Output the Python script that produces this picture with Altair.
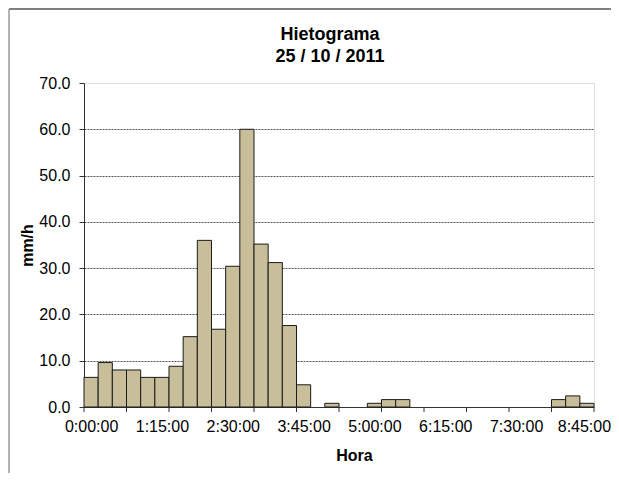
import altair as alt
import pandas as pd

# 15-minute intervals, intensity in mm/h
hora = [f"{(i*15)//60}:{(i*15)%60:02d}:00" for i in range(36)]
intensidad = [6.4, 9.6, 8.0, 8.0, 6.4, 6.4, 8.8, 15.2, 36.0, 16.8, 30.4, 60.0,
              35.2, 31.2, 17.6, 4.8, 0.0, 0.8, 0.0, 0.0, 0.8, 1.6, 1.6, 0.0,
              0.0, 0.0, 0.0, 0.0, 0.0, 0.0, 0.0, 0.0, 0.0, 1.6, 2.4, 0.8]
step_min = 15
label_every = 5
tick_every = 3

df = pd.DataFrame({
    "hora": hora,
    "v": intensidad,
    "start": [i * step_min for i in range(len(hora))],
})
df["end"] = df["start"] + step_min

label_vals = [i * step_min + step_min / 2 for i in range(0, len(hora), label_every)]
tick_df = pd.DataFrame({"m": [i * step_min for i in range(0, len(hora) + 1, tick_every)]})

W, H = 510, 324
FONT = "Liberation Sans"

xscale = alt.Scale(domain=[0, len(hora) * step_min], nice=False, zero=False)
yscale = alt.Scale(domain=[0, 70], nice=False)

label_expr = ("floor((datum.value-7.5)/60) + ':' + "
              "(((datum.value-7.5)%60) < 10 ? '0' : '') + ((datum.value-7.5)%60) + ':00'")

bars = alt.Chart(df).transform_filter("datum.v > 0").mark_bar(
    color="#C8BF9A", stroke="#1a1a1a", strokeWidth=1
).encode(
    x=alt.X("start:Q", scale=xscale,
            axis=alt.Axis(values=label_vals, labelExpr=label_expr, ticks=False,
                          domainColor="#333333", labelFontSize=16, labelColor="#000000",
                          labelPadding=11, labelFont=FONT, grid=False,
                          labelOffset=alt.condition("datum.value > 500",
                                                    alt.value(-3), alt.value(0)),
                          title="Hora", titleFont=FONT, titleFontSize=16,
                          titleFontWeight="bold", titleColor="#000000",
                          titleX=270, titleY=53, titleBaseline="alphabetic",
                          titleAlign="center")),
    x2="end:Q",
    y=alt.Y("v:Q", scale=yscale,
            axis=alt.Axis(values=[0, 10, 20, 30, 40, 50, 60, 70], format=".1f",
                          tickSize=5, tickColor="#333333", domainColor="#333333",
                          labelFontSize=16, labelColor="#000000", labelFont=FONT,
                          labelPadding=9,
                          grid=True, gridColor="#555555", gridDash=[2, 1],
                          gridOpacity=alt.condition("datum.value == 0 || datum.value == 70",
                                                    alt.value(0), alt.value(1)),
                          title="mm/h", titleFont=FONT, titleFontSize=16,
                          titleFontWeight="bold", titleColor="#000000",
                          titleX=-52, titleY=162, titleBaseline="alphabetic",
                          titleAlign="center", titleAngle=270)),
    y2=alt.datum(0),
)

ticks = alt.Chart(tick_df).mark_rule(color="#333333", strokeWidth=1).encode(
    x=alt.X("m:Q", scale=xscale),
    y=alt.value(H), y2=alt.value(H + 5),
)

frame_top = alt.Chart(tick_df.head(1)).mark_rule(color="#555555", strokeWidth=1.5).encode(
    x=alt.value(-75), x2=alt.value(W + 17), y=alt.value(-74)
)
frame_left = alt.Chart(tick_df.head(1)).mark_rule(color="#999999", strokeWidth=1.5).encode(
    x=alt.value(-75), y=alt.value(-74), y2=alt.value(H + 66)
)

chart = alt.layer(bars, ticks, frame_top, frame_left).properties(
    width=W, height=H,
    title=alt.TitleParams(["Hietograma", "25 / 10 / 2011"], font=FONT, fontSize=18,
                          fontWeight="bold", color="#000000", anchor="middle",
                          dx=-9, dy=58, offset=0, lineHeight=22),
    autosize=alt.AutoSizeParams(type="none"),
    padding={"left": 76, "top": 75, "right": 17, "bottom": 66},
).configure_view(stroke="#888888", strokeWidth=1).configure(background="white")

chart.save("out.html", embed_options={"renderer": "svg", "actions": False})
